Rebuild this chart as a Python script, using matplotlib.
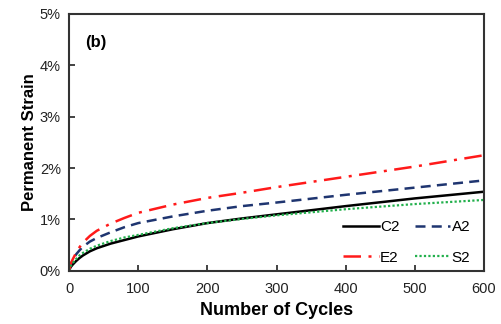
import matplotlib
matplotlib.use("Agg")
import matplotlib.pyplot as plt
from matplotlib.ticker import FuncFormatter

plt.rcParams["font.family"] = ["Liberation Sans", "DejaVu Sans"]

# cycles and permanent strain (%)
cycles = [0, 2, 5, 10, 15, 20, 30, 40, 60, 80, 100, 150, 200, 250, 300, 400, 500, 600]
C2 = [0, 0.07, 0.12, 0.19, 0.25, 0.30, 0.38, 0.44, 0.53, 0.60, 0.67, 0.81, 0.93, 1.02, 1.10, 1.26, 1.41, 1.54]
A2 = [0, 0.12, 0.20, 0.32, 0.40, 0.47, 0.57, 0.64, 0.75, 0.85, 0.93, 1.06, 1.17, 1.26, 1.33, 1.48, 1.62, 1.76]
E2 = [0, 0.13, 0.22, 0.35, 0.46, 0.55, 0.68, 0.78, 0.92, 1.03, 1.13, 1.29, 1.42, 1.52, 1.63, 1.83, 2.03, 2.25]
S2 = [0, 0.09, 0.15, 0.23, 0.30, 0.35, 0.43, 0.49, 0.58, 0.65, 0.70, 0.83, 0.93, 1.01, 1.08, 1.20, 1.30, 1.38]

fig = plt.figure(figsize=(5.01, 3.24), dpi=100)
ax = fig.add_axes([0.138, 0.164, 0.828, 0.793])

lC, = ax.plot(cycles, C2, color="black", lw=1.8, label="C2")
lA, = ax.plot(cycles, A2, color="#1f3570", lw=1.8, dashes=(4, 2.5), label="A2")
lE, = ax.plot(cycles, E2, color="#ff1a1a", lw=1.8, dashes=(7, 3, 1.2, 3), label="E2")
lS, = ax.plot(cycles, S2, color="#22b04c", lw=1.6, dashes=(1, 1), label="S2")

ax.set_xlim(0, 600)
ax.set_ylim(0, 5)
ax.set_xticks([0, 100, 200, 300, 400, 500, 600])
ax.set_yticks([0, 1, 2, 3, 4, 5])
ax.yaxis.set_major_formatter(FuncFormatter(lambda v, p: "%d%%" % v))
ax.tick_params(direction="in", length=4, width=1.2, labelsize=10.5, colors="#222222", pad=6)
ax.tick_params(axis="x", pad=8)
for s in ax.spines.values():
    s.set_linewidth(1.5)
    s.set_color("#333333")

ax.set_xlabel("Number of Cycles", fontsize=13, fontweight="bold", labelpad=4)
ax.set_ylabel("Permanent Strain", fontsize=12, fontweight="bold", labelpad=2)

ax.text(0.039, 0.887, "(b)", transform=ax.transAxes, fontsize=12, fontweight="bold", va="center")

leg = ax.legend(handles=[lC, lE, lA, lS], ncol=2, loc="lower right", frameon=False,
                fontsize=11, handlelength=2.3, handletextpad=0.1, columnspacing=1.0,
                labelspacing=1.1, bbox_to_anchor=(1.0, -0.03))

fig.savefig("out.png", dpi=100)
